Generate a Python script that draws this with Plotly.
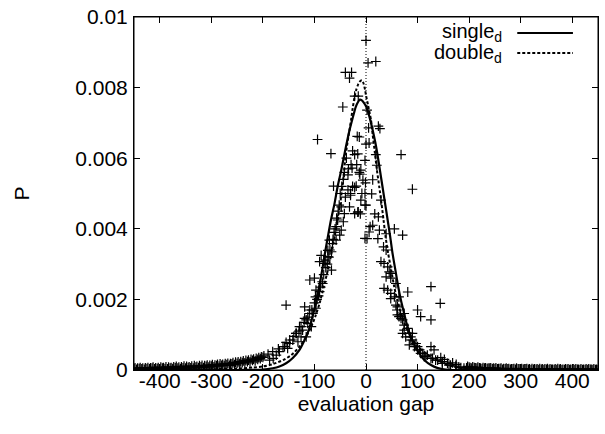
import numpy as np
import plotly.graph_objects as go

# curves (y in units of 1e-3)
single_x = [-450, -250, -200, -181, -168, -155, -142, -129, -120, -111, -104, -97, -91, -85, -80, -74,
            -68, -61, -55, -48, -40, -32, -26, -20, -16, -12, -8, -4, 0, 3, 8, 13, 18, 22, 27, 32, 37,
            42, 47, 51.5, 57, 62.5, 68, 74, 80, 87, 95, 103, 114, 126, 138, 151, 170, 200, 450]
single_y = [0, 0, 0.01, 0.05, 0.10, 0.19, 0.34, 0.57, 0.82, 1.13, 1.50, 1.89, 2.35, 2.83, 3.28, 3.77,
            4.25, 4.72, 5.20, 5.66, 6.25, 6.79, 7.13, 7.45, 7.58, 7.66, 7.64, 7.57, 7.47, 7.36, 7.10,
            6.79, 6.45, 6.13, 5.66, 5.19, 4.72, 4.25, 3.77, 3.30, 2.83, 2.36, 1.96, 1.60, 1.25, 0.94,
            0.68, 0.47, 0.27, 0.14, 0.06, 0.02, 0.0, 0, 0]

double_x = [-450, -400, -350, -300, -250, -220, -200, -180, -161, -145, -129, -117, -106, -98, -90, -82,
            -74, -67, -61, -55, -50, -44, -39, -34, -29, -26, -22, -19, -15, -11, -8, -5, -2, 0, 4, 9.7,
            13, 17.4, 21, 25.7, 30, 34, 38, 43, 49, 54.7, 61, 67.7, 77, 87, 100, 116, 132, 151, 168,
            184, 210, 250, 300, 450]
double_y = [0.0, 0.0, 0.01, 0.02, 0.04, 0.07, 0.10, 0.17, 0.28, 0.42, 0.66, 0.92, 1.23, 1.53, 1.89, 2.35,
            2.83, 3.30, 3.77, 4.25, 4.72, 5.42, 6.13, 6.62, 7.08, 7.40, 7.75, 7.93, 8.10, 8.19, 8.21,
            8.13, 7.95, 7.78, 7.50, 7.08, 6.66, 6.13, 5.68, 5.19, 4.72, 4.25, 3.77, 3.30, 2.83, 2.36,
            1.96, 1.60, 1.24, 0.94, 0.68, 0.47, 0.31, 0.19, 0.10, 0.05, 0.02, 0.01, 0.0, 0.0]

# measured points, central part
gap_x = [0, 4, 19, -40, -28, -32, -45, -94, -68, 68, 90, -15, -22, 2, 5, 24, 27, -17, -13, 6, 0, -26,
         -22, -16, 19, -2, 21, -34, -27, -35, -12, 13, -63, -26, -22, -1, -35, -30, -2, 11,
         -38, -29, -18, -10, -40, -30, -52, -48, -8, -10, -2, -32, -22, -15, -42, -55, -44, -2, -58,
         -48, -51, -58, -71, -65, -74, -67, -74, -78, -87, -90, -80, -67, -109, -100, -84, -97, -90,
         -98, -155, -119, -109, -103, -97, -119, -113, -106, -129, -123, -136, -126, -116, -142, -132,
         -148, -158, -152, -168, -174, -180, -187,
         -13, -6, -19, 0, -16, -11, 17, 24, 29, 8, 13, 6, 23, 2, 39, 55, 71, 26, 34, 39, 29, 35, 42,
         45, 39, 48, 35, 42, 48, 55, 58, 61, 60, 81, 126, 144, 64, 74, 68, 100, 106, 126, 74, 81, 71,
         77, 90, 87, 84, 94, 100, 106, 113, 119, 126, 132, 129, 139, 148, 158, 164, 174, 184, 190,
         48, 58, 48, 64, 67, 61, 71, 74, 84, 87, 90, 97, 100, 104, 110, 116, 126, 135, 148, 161, 180,
         -190, -181, -170, -161, -155, -148, -140, -135, -130, -126, -120, -116, -113, -110, -105,
         -100, -95, -92, -88, -85, -82, -78, -75, -72, -70, -64, -62, -60, -57, -54, -50, -47, -44,
         -42, 145, 152, 168, 175]
prob_milli = [9.34, 8.70, 8.74, 8.43, 8.43, 8.27, 7.45, 6.53, 6.13, 6.10, 5.12, 7.76, 7.76, 7.36, 6.86,
              6.91, 6.84, 6.62, 6.60, 6.43, 6.40, 6.21, 6.10, 6.12, 6.10, 5.94, 5.80, 5.70, 5.72, 5.53,
              5.55, 5.39, 5.21, 5.20, 5.17, 5.30, 5.10, 5.00, 5.00, 4.99,
              6.00, 5.82, 5.82, 5.66, 4.90, 4.95, 4.67, 4.62, 5.00, 4.81, 4.67, 4.62, 4.43, 4.48, 4.43,
              4.25, 4.20, 3.73, 4.06, 3.96, 3.82, 3.68, 3.68, 3.58, 3.39, 3.35, 3.21, 3.11, 3.25, 3.07,
              3.02, 2.83, 2.55, 2.60, 2.45, 2.26, 2.22, 2.07, 1.84, 1.79, 1.70, 1.60, 1.75, 1.46, 1.32,
              1.23, 1.23, 1.13, 1.04, 0.94, 0.94, 0.85, 0.80, 0.75, 0.66, 0.61, 0.52, 0.42, 0.33, 0.28,
              5.60, 5.38, 5.21, 4.67, 4.47, 4.42, 4.42, 4.34, 4.81, 4.06, 4.10, 3.91, 3.72, 3.72, 3.86,
              4.00, 3.82, 3.96, 3.49, 3.40, 3.07, 3.02, 2.92, 2.78, 2.64, 2.60, 2.31, 2.26, 2.02, 2.07,
              1.84, 1.79, 1.70, 2.21, 2.36, 1.89, 1.51, 1.60, 1.46, 1.70, 1.51, 1.42, 1.27, 1.18, 1.04,
              0.94, 1.04, 0.85, 0.71, 0.66, 0.57, 0.47, 0.38, 0.42, 0.66, 0.57, 0.33, 0.28, 0.24, 0.19,
              0.14, 0.11, 0.07, 0.05,
              2.74, 2.45, 2.17, 2.07, 1.56, 1.56, 1.42, 1.13, 1.04, 0.94, 0.85, 0.75, 0.66, 0.57, 0.47,
              0.38, 0.33, 0.28, 0.19, 0.14, 0.09,
              0.45, 0.52, 0.60, 0.66, 0.78, 0.85, 0.95, 1.04, 1.10, 1.23, 1.35, 1.42, 1.50, 1.60, 1.70,
              1.90, 2.00, 2.10, 2.35, 2.50, 2.70, 2.90, 3.00, 3.20, 3.40, 3.70, 3.90, 4.00, 4.30, 4.50,
              5.00, 5.20, 5.40, 5.60, 0.35, 0.30, 0.20, 0.16]

# tails, two interleaved rows each side
left_tail_x = list(range(-450, -195, 5))
left_tail_milli = [0.03, 0.02, 0.04, 0.03, 0.02, 0.04, 0.03, 0.05, 0.03, 0.04, 0.03, 0.05, 0.04, 0.03,
                   0.05, 0.04, 0.06, 0.05, 0.04, 0.06, 0.05, 0.07, 0.06, 0.05, 0.08, 0.07, 0.09, 0.07,
                   0.10, 0.08, 0.11, 0.09, 0.12, 0.11, 0.13, 0.12, 0.15, 0.13, 0.17, 0.15, 0.19, 0.18,
                   0.21, 0.20, 0.24, 0.23, 0.27, 0.26, 0.30, 0.32, 0.36]
left_tail2_x = list(range(-448, -197, 5))
left_tail2_milli = [0.06, 0.05, 0.07, 0.05, 0.06, 0.07, 0.06, 0.08, 0.06, 0.07, 0.08, 0.07, 0.09, 0.08,
                    0.07, 0.09, 0.10, 0.08, 0.09, 0.11, 0.10, 0.09, 0.11, 0.12, 0.10, 0.12, 0.13, 0.12,
                    0.14, 0.13, 0.15, 0.14, 0.16, 0.17, 0.16, 0.18, 0.19, 0.18, 0.21, 0.22, 0.23, 0.24,
                    0.26, 0.27, 0.28, 0.30, 0.31, 0.33, 0.35, 0.37, 0.40]
right_tail_x = list(range(195, 455, 5))
right_tail_milli = [0.06, 0.08, 0.05, 0.07, 0.05, 0.06, 0.04, 0.05, 0.04, 0.05, 0.03, 0.04, 0.03, 0.04,
                    0.02, 0.03, 0.03, 0.02, 0.03, 0.02, 0.03, 0.02, 0.02, 0.03, 0.02, 0.01, 0.02, 0.02,
                    0.01, 0.02, 0.01, 0.02, 0.01, 0.02, 0.01, 0.01, 0.02, 0.01, 0.01, 0.02, 0.01, 0.01,
                    0.01, 0.02, 0.01, 0.01, 0.01, 0.01, 0.02, 0.01, 0.01, 0.01]
right_tail2_x = list(range(197, 452, 5))
right_tail2_milli = [0.10, 0.07, 0.09, 0.06, 0.08, 0.05, 0.07, 0.06, 0.05, 0.06, 0.05, 0.06, 0.04, 0.05,
                     0.04, 0.05, 0.04, 0.03, 0.04, 0.05, 0.03, 0.04, 0.03, 0.04, 0.03, 0.04, 0.03, 0.03,
                     0.04, 0.03, 0.03, 0.04, 0.03, 0.02, 0.03, 0.04, 0.03, 0.02, 0.03, 0.03, 0.02, 0.03,
                     0.03, 0.02, 0.03, 0.02, 0.03, 0.03, 0.02, 0.03, 0.02, 0.03]

x_ticks = [-400, -300, -200, -100, 0, 100, 200, 300, 400]
x_ticktext = ["-400", "-300", "-200", "-100", "0", "100", "200", "300", "400"]
y_ticks = [0, 0.002, 0.004, 0.006, 0.008, 0.01]
y_ticktext = ["0", "0.002", "0.004", "0.006", "0.008", "0.01"]

FONT = "Liberation Sans, Arial, Helvetica, sans-serif"
FS = 21

pts_x = left_tail_x + left_tail2_x + gap_x + right_tail_x + right_tail2_x
pts_y = np.array(left_tail_milli + left_tail2_milli + prob_milli + right_tail_milli + right_tail2_milli) / 1000

fig = go.Figure()
fig.add_trace(go.Scatter(x=pts_x, y=pts_y, mode="markers", showlegend=False,
                         marker=dict(symbol="cross-thin", size=7, color="black",
                                     line=dict(color="black", width=1.2))))
fig.add_trace(go.Scatter(x=single_x, y=np.array(single_y) / 1000, mode="lines", name="single",
                         line=dict(color="black", width=2.2, shape="spline", smoothing=0.6),
                         showlegend=False))
fig.add_trace(go.Scatter(x=double_x, y=np.array(double_y) / 1000, mode="lines", name="double",
                         line=dict(color="black", width=2, dash="3px,2px", shape="spline", smoothing=0.6),
                         showlegend=False))
fig.add_vline(x=0, line=dict(color="black", width=1, dash="1px,2px"))

# frame round the plot box
fig.add_shape(type="rect", xref="paper", yref="paper", x0=0, x1=1, y0=0, y1=1,
              line=dict(color="black", width=1))

# gnuplot style key: text right-aligned, sample to the right
for label, yk, dash in [("single<sub>d</sub>", 0.955, "solid"), ("double<sub>d</sub>", 0.898, "3px,2px")]:
    fig.add_annotation(x=0.797, y=yk, xref="paper", yref="paper", text=label, showarrow=False,
                       xanchor="right", yanchor="middle", font=dict(family=FONT, size=20, color="black"))
    fig.add_shape(type="line", xref="paper", yref="paper", x0=0.826, x1=0.946, y0=yk, y1=yk,
                  line=dict(color="black", width=2, dash=dash))

axis_common = dict(showline=True, linecolor="black", linewidth=1, mirror="allticks", ticks="inside",
                   ticklen=6, tickcolor="black", showgrid=False, zeroline=False, ticklabeloverflow="allow",
                   tickfont=dict(family=FONT, size=FS, color="black"))
fig.update_xaxes(range=[-450, 450], tickvals=x_ticks, ticktext=x_ticktext, ticklabelstandoff=-8,
                 **axis_common,
                 title=dict(text="evaluation gap", font=dict(family=FONT, size=FS, color="black"), standoff=2))
fig.update_yaxes(range=[0, 0.01], tickvals=y_ticks, ticktext=y_ticktext, ticklabelstandoff=1, **axis_common,
                 title=dict(text="P", font=dict(family=FONT, size=FS, color="black"), standoff=39))
fig.update_layout(width=605, height=434, margin=dict(l=134, r=7, t=17, b=64, autoexpand=False),
                  paper_bgcolor="white", plot_bgcolor="white", font=dict(family=FONT, size=FS))
# drop the default 8px body margin so the figure sits at the page corner
fig.write_html("out.html", config={"displayModeBar": False},
               post_script="document.body.style.margin='0px';")
